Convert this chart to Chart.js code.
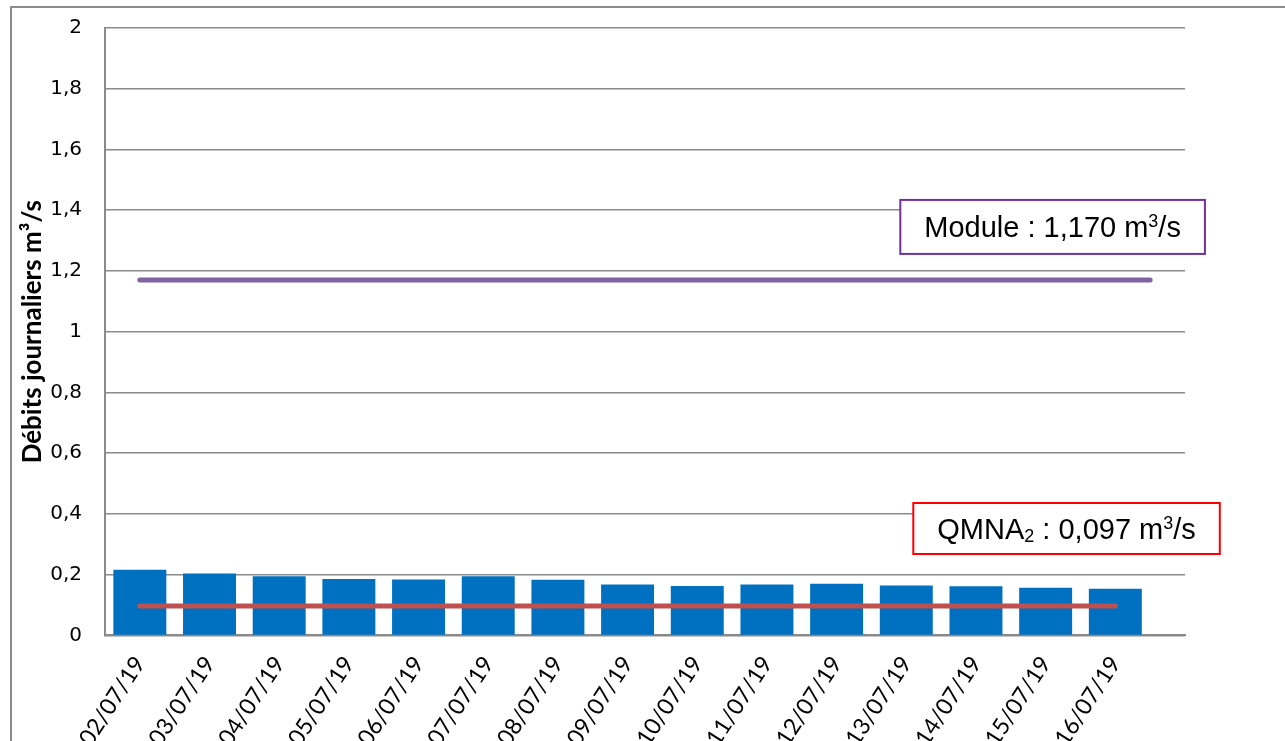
<!DOCTYPE html>
<html><head><meta charset="utf-8">
<script src="https://cdn.jsdelivr.net/npm/chart.js@4"></script>
<style>
html,body{margin:0;padding:0;overflow:hidden;background:#fff;width:1285px;height:741px}
#frame{position:absolute;left:10px;top:6px;width:1300px;height:800px;border:2px solid #8c8c8c;box-sizing:border-box}
#c{position:absolute;left:0;top:0}
</style></head><body>
<div id="frame"></div>
<canvas id="c"></canvas>
<script>
const dates = ['02/07/19','03/07/19','04/07/19','05/07/19','06/07/19','07/07/19','08/07/19','09/07/19','10/07/19','11/07/19','12/07/19','13/07/19','14/07/19','15/07/19','16/07/19'];
const debits = [0.216,0.204,0.195,0.186,0.184,0.195,0.183,0.168,0.163,0.168,0.170,0.164,0.162,0.157,0.154];
const moduleValue = 1.170;
const qmna2Value = 0.097;
const yTickValues = [0,0.2,0.4,0.6,0.8,1,1.2,1.4,1.6,1.8,2];
const yTickLabels = ['0','0,2','0,4','0,6','0,8','1','1,2','1,4','1,6','1,8','2'];
const yTitle = 'Débits journaliers m³/s';
// annotation texts (segments: normal / sup / sub)
const moduleLabel = [{t:'Module : 1,170 m'},{t:'3',sup:true},{t:'/s'}];
const qmnaLabel = [{t:'QMNA'},{t:'2',sub:true},{t:' : 0,097 m'},{t:'3',sup:true},{t:'/s'}];

const W = 1285, H = 785;
const cv = document.getElementById('c');
cv.width = W; cv.height = H; cv.style.width = W+'px'; cv.style.height = H+'px';

const gridCol = '#8a8a8a';
const n = dates.length;

function drawRich(ctx, segs, x, y, size) {
  let w = 0;
  const parts = segs.map(s => {
    const fs = (s.sup||s.sub) ? size*0.62 : size;
    ctx.font = fs + 'px "Liberation Sans", Arial, sans-serif';
    const pw = ctx.measureText(s.t).width;
    const p = {s, fs, pw, off: w};
    w += pw;
    return p;
  });
  if (x === null) return w;
  ctx.textBaseline = 'alphabetic';
  ctx.textAlign = 'left';
  ctx.fillStyle = '#000';
  parts.forEach(p => {
    ctx.font = p.fs + 'px "Liberation Sans", Arial, sans-serif';
    let dy = 0;
    if (p.s.sup) dy = -size*0.36;
    if (p.s.sub) dy = size*0.12;
    ctx.fillText(p.s.t, x + p.off, y + dy);
  });
  return w;
}

const boxPlugin = {
  id: 'boxes',
  afterDatasetsDraw(chart) {
    const ctx = chart.ctx;
    const xs = chart.scales.x, ys = chart.scales.y;
    const boxes = [
      {segs: moduleLabel, xv: 13.1, yv: 1.345, color: '#7030A0', h: 54},
      {segs: qmnaLabel, xv: 13.3, yv: 0.352, color: '#FF0000', h: 51}
    ];
    const size = 29;
    boxes.forEach(b => {
      ctx.save();
      const tw = drawRich(ctx, b.segs, null, 0, size);
      const bw = tw + 48;
      const cx = xs.getPixelForValue(b.xv), cy = ys.getPixelForValue(b.yv);
      const x0 = cx - bw/2, y0 = cy - b.h/2;
      ctx.fillStyle = '#fff';
      ctx.fillRect(x0, y0, bw, b.h);
      ctx.strokeStyle = b.color;
      ctx.lineWidth = 2;
      ctx.strokeRect(x0, y0, bw, b.h);
      drawRich(ctx, b.segs, x0 + 24, cy + size*0.36, size);
      ctx.restore();
    });
  }
};

new Chart(cv, {
  data: {
    datasets: [
      {
        type: 'line', label: 'Module', order: 0,
        data: [{x:0, y:moduleValue}, {x:n-0.5, y:moduleValue}],
        borderColor: '#8064A2', borderWidth: 5, borderCapStyle: 'round',
        pointRadius: 0, fill: false
      },
      {
        type: 'line', label: 'QMNA2', order: 0,
        data: [{x:0, y:qmna2Value}, {x:n-1, y:qmna2Value}],
        borderColor: '#C0504D', borderWidth: 5, borderCapStyle: 'round',
        pointRadius: 0, fill: false
      },
      {
        type: 'bar', label: 'Débits', order: 1,
        data: debits.map((v,i)=>({x:i, y:v})),
        backgroundColor: '#0070C0',
        barPercentage: 0.76, categoryPercentage: 1
      }
    ]
  },
  options: {
    responsive: false, animation: false, devicePixelRatio: 1,
    layout: {padding: {left: 13, top: 28, right: 100, bottom: 26}},
    plugins: {legend: {display: false}, tooltip: {enabled: false}},
    scales: {
      x: {
        type: 'linear', min: -0.5, max: n, offset: false,
        afterBuildTicks: ax => { ax.ticks = dates.map((d,i)=>({value:i})); },
        afterFit: ax => { ax.paddingLeft = 0; ax.paddingRight = 0; },
        ticks: {
          callback: (v, i) => dates[i],
          autoSkip: false, minRotation: 57, maxRotation: 57,
          padding: 8, color: '#000',
          font: {family: 'Lato, "Open Sans", sans-serif', size: 23}
        },
        grid: {display: false},
        border: {display: true, color: gridCol, width: 2}
      },
      y: {
        min: 0, max: 2,
        afterBuildTicks: ax => { ax.ticks = yTickValues.map(v=>({value:v})); },
        afterFit: ax => { ax.width = 92; ax.paddingTop = 8; ax.paddingBottom = 8; },
        ticks: {
          callback: (v, i) => yTickLabels[i],
          padding: 23, color: '#000',
          font: {family: '"DejaVu Sans", Verdana, sans-serif', size: 20}
        },
        grid: {color: gridCol, lineWidth: 1.5, drawTicks: false},
        border: {display: true, color: gridCol, width: 2},
        title: {
          display: true, text: yTitle, color: '#000',
          font: {family: 'Lato, "Open Sans", sans-serif', size: 26, weight: 'bold'},
          padding: {top: 4, bottom: 4}
        }
      }
    }
  },
  plugins: [boxPlugin]
});
</script>
</body></html>
